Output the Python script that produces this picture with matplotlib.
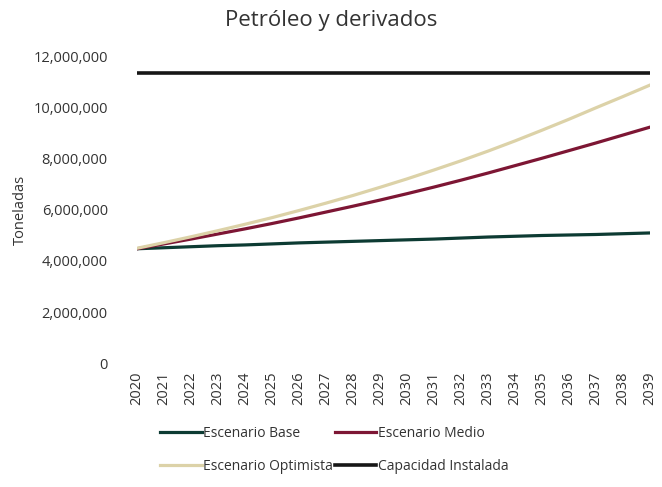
import matplotlib
matplotlib.use('Agg')
import matplotlib.pyplot as plt
from matplotlib.ticker import FuncFormatter

years = list(range(2020, 2040))
base = [4.48, 4.52, 4.56, 4.60, 4.63, 4.67, 4.71, 4.74, 4.77, 4.80,
        4.83, 4.86, 4.90, 4.94, 4.97, 5.00, 5.02, 5.04, 5.07, 5.10]
medio = [4.48, 4.67, 4.86, 5.06, 5.26, 5.47, 5.69, 5.92, 6.15, 6.39,
         6.64, 6.90, 7.17, 7.45, 7.74, 8.03, 8.33, 8.63, 8.94, 9.25]
optimista = [4.50, 4.72, 4.95, 5.19, 5.44, 5.70, 5.98, 6.27, 6.57, 6.89,
             7.22, 7.57, 7.93, 8.31, 8.71, 9.13, 9.56, 10.01, 10.45, 10.90]
capacidad = [11.37] * 20
# millones de toneladas -> toneladas
base = [v * 1e6 for v in base]
medio = [v * 1e6 for v in medio]
optimista = [v * 1e6 for v in optimista]
capacidad = [v * 1e6 for v in capacidad]

plt.rcParams['font.family'] = ['Open Sans', 'DejaVu Sans']
txt = '#333333'

fig = plt.figure(figsize=(6.62, 4.87), dpi=100)
ax = fig.add_axes([0.207, 0.2546, 0.775, 0.6284])

l_base, = ax.plot(years, base, color='#0d3b33', lw=2.3, label='Escenario Base')
l_medio, = ax.plot(years, medio, color='#7d1634', lw=2.3, label='Escenario Medio')
l_opt, = ax.plot(years, optimista, color='#dcd2a8', lw=2.3, label='Escenario Optimista')
l_cap, = ax.plot(years, capacidad, color='#161616', lw=2.6, label='Capacidad Instalada')

ax.set_xlim(2020, 2039)
ax.set_ylim(0, 12e6)
ax.set_yticks(range(0, 12000001, 2000000))
ax.yaxis.set_major_formatter(FuncFormatter(lambda v, p: f'{int(v):,}'))
ax.set_xticks(years)
ax.set_xticklabels([str(y) for y in years], rotation=90)
for s in ax.spines.values():
    s.set_visible(False)
ax.tick_params(length=0, labelsize=10.5, colors=txt)
ax.tick_params(axis='y', pad=21)
ax.tick_params(axis='x', pad=6)
ax.set_ylabel('Toneladas', fontsize=10.5, color=txt, labelpad=4)

fig.text(0.5, 0.958, 'Petróleo y derivados', ha='center', va='center',
         fontsize=16, color=txt)

fig.legend(handles=[l_base, l_opt, l_medio, l_cap], ncol=2, frameon=False,
           loc='center', bbox_to_anchor=(0.505, 0.076), fontsize=10,
           handlelength=3.0, handletextpad=0.1, columnspacing=0.1,
           labelspacing=1.3, labelcolor=txt)

fig.savefig('out.png', dpi=100)
